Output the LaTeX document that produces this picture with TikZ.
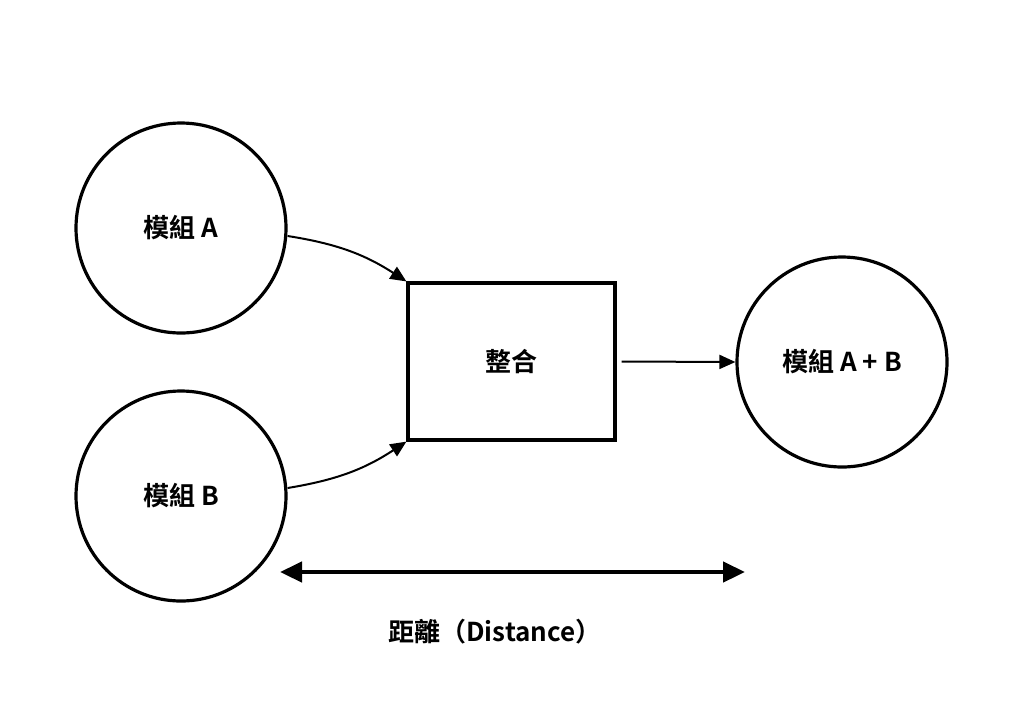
\documentclass[tikz,border=0pt]{standalone}
\usepackage{fontspec}
\setmainfont{Noto Sans CJK TC}[BoldFont={* Bold}]
\usetikzlibrary{arrows.meta}
\tikzset{
  label text/.style={font=\fontsize{26pt}{30pt}\selectfont\bfseries},
  module/.style={circle,draw,line width=3.2pt,minimum size=210pt,inner sep=0pt,label text},
  box/.style={rectangle,draw,line width=3.2pt,minimum width=207pt,minimum height=157pt,label text},
  flow/.style={-{Triangle[length=16pt,width=14pt]},line width=2pt}
}
\begin{document}
\begin{tikzpicture}[x=1pt,y=-1pt]
  \useasboundingbox (0,0) rectangle (1024,724);
  \node[module] (modA) at (181,228) {模組 A};
  \node[module] (modB) at (181,496) {模組 B};
  \node[box] (merge) at (511.5,361.5) {整合};
  \node[module] (modAB) at (842,362) {模組 A + B};
  \coordinate (dl) at (280,572);
  \coordinate (dr) at (745,572);
  \draw[flow] (modA.east) ++(0,8) to[bend left=12] (merge.north west);
  \draw[flow] (modB.east) ++(0,-8) to[bend right=12] (merge.south west);
  \draw[flow] (merge.east) ++(5,0) -- (modAB.west);
  \draw[{Triangle[length=22pt,width=20pt]}-{Triangle[length=22pt,width=20pt]},line width=4.5pt] (dl) -- (dr);
  \node[label text] (dist) at (495,632) {距離（Distance）};
\end{tikzpicture}
\end{document}
